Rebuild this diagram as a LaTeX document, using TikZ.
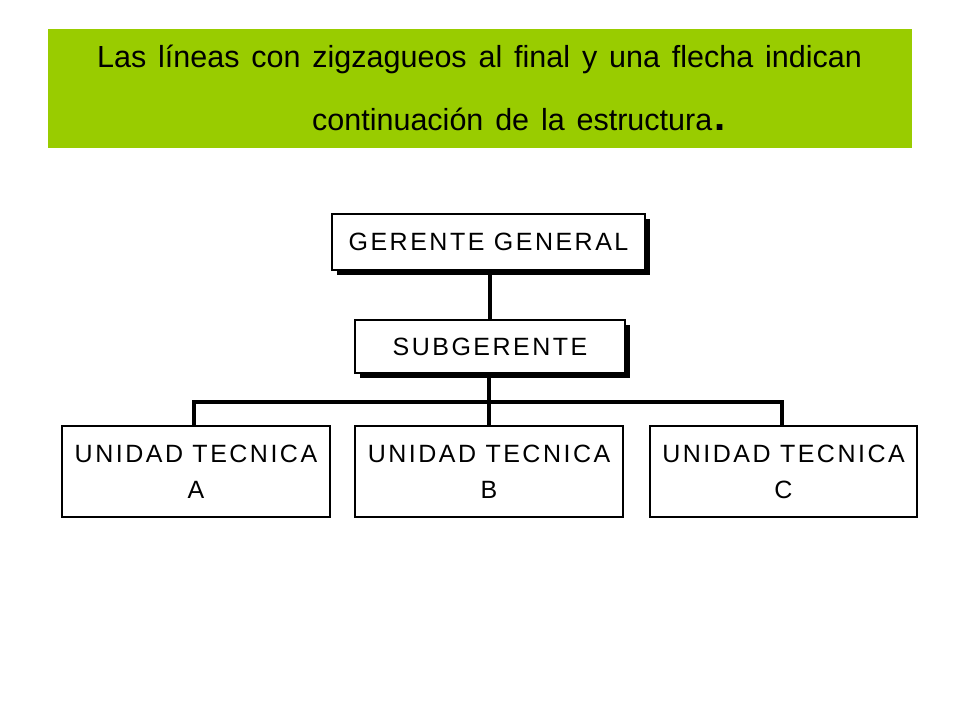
\documentclass[tikz,border=0pt]{standalone}
\usepackage{fontspec}
\setmainfont{Liberation Sans}
\newfontfamily\titlefont[WordSpace=1.4]{Liberation Sans}
\newfontfamily\boxfont[LetterSpace=10]{Liberation Sans}
\definecolor{banner}{HTML}{99CC00}
\usetikzlibrary{shadows}
\tikzset{
  orgbox/.style={draw=black, line width=1.3pt, fill=white, align=center, inner sep=0pt, font=\boxfont\fontsize{25}{36}\selectfont},
  shadowbox/.style={orgbox, drop shadow={shadow xshift=5pt, shadow yshift=-5pt, fill=black, opacity=1}},
  link/.style={draw=black, line width=4pt},
  hlink/.style={draw=black, line width=3.5pt},
  titletext/.style={font=\titlefont\fontsize{30.5}{34}\selectfont, inner sep=0pt, anchor=base west},
}
\begin{document}
\begin{tikzpicture}[x=1pt,y=-1pt]
\useasboundingbox (0,0) rectangle (960,720);
\fill[banner] (48,29) rectangle (912,148);
\node[titletext] (t1) at (97,67) {Las líneas con zigzagueos al final y una flecha indican};
\node[titletext] (t2) at (312,130) {continuación de la estructura\kern2pt{\fontsize{40}{40}\selectfont\bfseries.}};
% boxes
\node[shadowbox, minimum width=313pt, minimum height=56pt] (gg) at (488.5,242) {GERENTE GENERAL};
\node[shadowbox, minimum width=270pt, minimum height=53pt] (sg) at (490,346.5) {SUBGERENTE};
\node[orgbox, minimum width=268pt, minimum height=91pt] (ua) at (196,471.5) {UNIDAD TECNICA\\A};
\node[orgbox, minimum width=268pt, minimum height=91pt] (ub) at (489,471.5) {UNIDAD TECNICA\\B};
\node[orgbox, minimum width=267pt, minimum height=91pt] (uc) at (783.5,471.5) {UNIDAD TECNICA\\C};
% connectors
\coordinate (bar) at (489,402);
\coordinate (da) at (194,426);
\coordinate (dc) at (782,426);
\draw[link] (490,275) -- (sg.north -| 490,0);
\draw[link] (489,378) -- (ub.north -| 489,0);
\draw[hlink] (da) |- (bar) -| (dc);
\end{tikzpicture}
\end{document}
